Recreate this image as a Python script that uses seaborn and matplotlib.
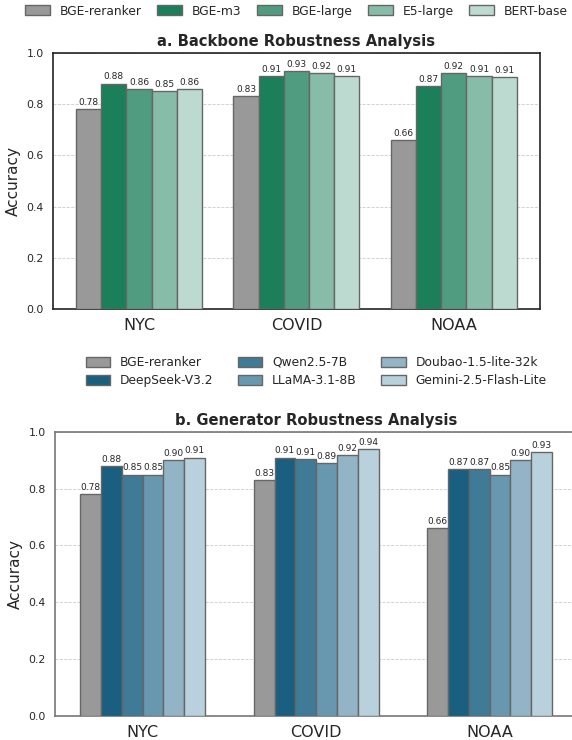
import pandas as pd
import numpy as np
import matplotlib
matplotlib.use("Agg")
import matplotlib.pyplot as plt
import seaborn as sns

# datasets on the x axis
datasets = ["NYC", "COVID", "NOAA"]

# panel a: retrieval backbones
backbones = ["BGE-reranker", "BGE-m3", "BGE-large", "E5-large", "BERT-base"]
backbone_acc = {
    "BGE-reranker": [0.78, 0.83, 0.66],
    "BGE-m3": [0.88, 0.91, 0.87],
    "BGE-large": [0.86, 0.93, 0.92],
    "E5-large": [0.85, 0.92, 0.91],
    "BERT-base": [0.857, 0.91, 0.906],
}
backbone_colors = ["#999999", "#1b7f5a", "#4f9c80", "#87bca8", "#bcdad0"]

# panel b: generators
generators = ["BGE-reranker", "DeepSeek-V3.2", "Qwen2.5-7B",
              "LLaMA-3.1-8B", "Doubao-1.5-lite-32k", "Gemini-2.5-Flash-Lite"]
generator_acc = {
    "BGE-reranker": [0.78, 0.83, 0.66],
    "DeepSeek-V3.2": [0.88, 0.91, 0.87],
    "Qwen2.5-7B": [0.85, 0.906, 0.87],
    "LLaMA-3.1-8B": [0.85, 0.89, 0.85],
    "Doubao-1.5-lite-32k": [0.90, 0.92, 0.90],
    "Gemini-2.5-Flash-Lite": [0.91, 0.94, 0.93],
}
generator_colors = ["#999999", "#1a5f80", "#3f7b97", "#6898b0", "#92b4c6", "#b9d1dc"]


def to_long(acc, order):
    rows = []
    for name in order:
        for ds, v in zip(datasets, acc[name]):
            rows.append({"Dataset": ds, "Model": name, "Accuracy": v})
    return pd.DataFrame(rows)


def draw_panel(ax, df, order, colors, width, title, spine_color, legend_y, ncol, colsp):
    sns.barplot(data=df, x="Dataset", y="Accuracy", hue="Model", order=datasets,
                hue_order=order, palette=colors, width=width, errorbar=None,
                saturation=1, edgecolor="#666666", linewidth=1.0, ax=ax, zorder=3)
    for c in ax.containers:
        ax.bar_label(c, fmt="%.2f", fontsize=6.5, padding=1.5)
    ax.set_ylim(0, 1.0)
    ax.set_yticks(np.arange(0, 1.01, 0.2))
    ax.set_yticklabels([f"{t:.1f}" for t in np.arange(0, 1.01, 0.2)], fontsize=7.8)
    ax.tick_params(axis="x", labelsize=11.5, length=3)
    ax.tick_params(axis="y", length=3)
    ax.set_xlabel("")
    ax.set_ylabel("Accuracy", fontsize=11)
    ax.set_title(title, fontsize=10.6, fontweight="bold", pad=5)
    ax.grid(axis="y", linestyle="--", linewidth=0.6, color="#cccccc", zorder=0)
    ax.set_axisbelow(True)
    for s in ax.spines.values():
        s.set_color(spine_color)
        s.set_linewidth(1.2)
    ax.legend(loc="center", bbox_to_anchor=(0.5, legend_y), ncol=ncol, frameon=False,
              fontsize=8.8, handlelength=2.0, handleheight=0.9, handletextpad=0.8,
              columnspacing=colsp, labelspacing=0.45)


sns.set_style("white")
plt.rcParams["font.family"] = ["DejaVu Sans"]

fig = plt.figure(figsize=(5.72, 7.4), dpi=100)
ax1 = fig.add_axes([0.0927, 0.5818, 0.851, 0.347])
ax2 = fig.add_axes([0.0962, 0.0331, 0.913, 0.3831])

draw_panel(ax1, to_long(backbone_acc, backbones), backbones, backbone_colors, 0.8,
           "a. Backbone Robustness Analysis", "#222222", 1.162, 5, 1.3)
ax1.set_xlim(-0.546, 2.546)

draw_panel(ax2, to_long(generator_acc, generators), generators, generator_colors, 0.72,
           "b. Generator Robustness Analysis", "#777777", 1.213, 3, 2.0)
ax2.set_xlim(-0.505, 2.505)

fig.savefig("out.png", dpi=100)
